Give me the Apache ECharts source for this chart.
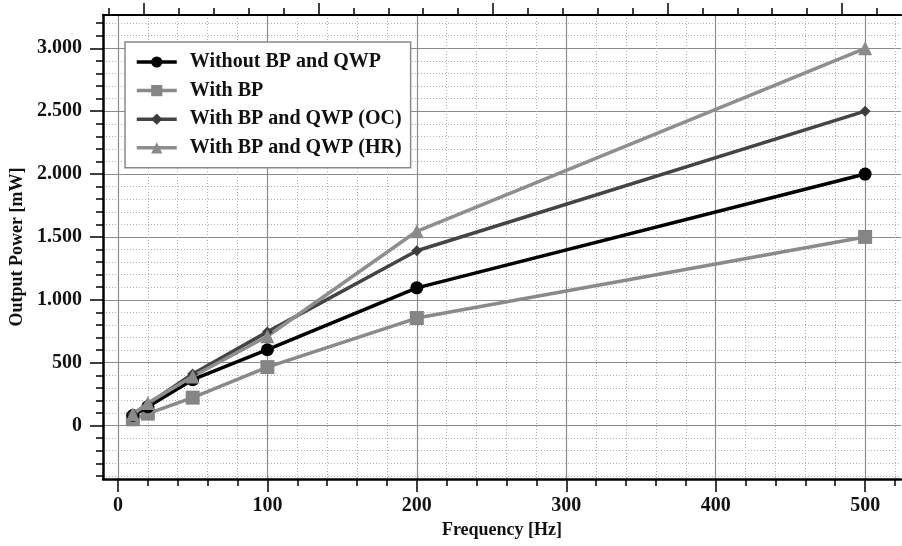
<!DOCTYPE html>
<html>
<head>
<meta charset="utf-8">
<script src="https://cdn.jsdelivr.net/npm/echarts@6/dist/echarts.min.js"></script>
<style>
  html, body { margin: 0; padding: 0; background: #fff; }
  #chart { width: 902px; height: 546px; }
</style>
</head>
<body>
<div id="chart"></div>
<script>
// ---- data ----
const frequency = [10, 20, 50, 100, 200, 500];
const withoutBPQWP = [80, 150, 365, 603, 1095, 2000];
const withBP = [50, 95, 222, 465, 855, 1500];
const withBPQWP_OC = [90, 170, 410, 745, 1390, 2500];
const withBPQWP_HR = [90, 180, 390, 710, 1545, 3000];
const seriesNames = ['Without BP and QWP', 'With BP', 'With BP and QWP (OC)', 'With BP and QWP (HR)'];

// ---- tick labels ----
const xMajorTicks = [0, 100, 200, 300, 400, 500];
const yMajorTicks = [0, 500, 1000, 1500, 2000, 2500, 3000];
const topMajorTicks = [0, 5, 10, 15, 20];

const xMinorTicks = [];
for (let v = 20; v <= 520; v += 20) if (v % 100 !== 0) xMinorTicks.push(v);
const yMinorTicks = [];
for (let v = -400; v <= 3200; v += 100) if (v % 500 !== 0) yMinorTicks.push(v);
const topMinorTicks = [];
for (let v = -1; v <= 21; v += 1) if (v % 5 !== 0) topMinorTicks.push(v);

const FONT = '"Liberation Serif", "DejaVu Serif", serif';
const pair = (xs, ys) => xs.map((x, i) => [x, ys[i]]);
const fmtThousand = v => String(v).replace(/\B(?=(\d{3})+(?!\d))/g, '.');

const chart = echarts.init(document.getElementById('chart'), null, { renderer: 'canvas' });

const X_MIN = -10, X_MAX = 524, Y_MIN = -425, Y_MAX = 3265;

chart.setOption({
  animation: false,
  backgroundColor: '#ffffff',
  textStyle: { fontFamily: FONT },
  grid: { left: 103, right: 1, top: 15, bottom: 67, containLabel: false },
  legend: {
    orient: 'vertical',
    left: 125, top: 42,
    padding: [10, 9, 10, 10],
    itemWidth: 40, itemHeight: 14, itemGap: 8.6,
    backgroundColor: '#ffffff',
    borderColor: '#8a8a8a', borderWidth: 1.5,
    lineStyle: { width: 3.5 },
    textStyle: { fontFamily: FONT, fontWeight: 'bold', fontSize: 20, color: '#111', padding: [0, 0, 0, 8] },
    data: seriesNames
  },
  xAxis: [
    {
      type: 'value', position: 'bottom', min: X_MIN, max: X_MAX,
      name: 'Frequency [Hz]', nameLocation: 'middle', nameGap: 38,
      nameTextStyle: { fontFamily: FONT, fontWeight: 'bold', fontSize: 18, color: '#111' },
      axisLine: { onZero: false, lineStyle: { color: '#000', width: 2.5 } },
      axisTick: { customValues: xMajorTicks, length: 13, lineStyle: { color: '#000', width: 1.5 } },
      axisLabel: { customValues: xMajorTicks, margin: 17, fontFamily: FONT, fontWeight: 'bold', fontSize: 20, color: '#111' },
      splitLine: { show: true, lineStyle: { color: '#8c8c8c', width: 1.2 } }
    },
    {
      type: 'value', position: 'bottom', min: X_MIN, max: X_MAX,
      axisLine: { show: false, onZero: false },
      axisTick: { customValues: xMinorTicks, length: 7, lineStyle: { color: '#000', width: 1.5 } },
      axisLabel: { show: false },
      splitLine: { show: true, lineStyle: { color: '#b0b0b0', width: 1, type: [1, 2] } }
    },
    {
      type: 'value', position: 'top', min: -1.175, max: 21.69,
      axisLine: { onZero: false, lineStyle: { color: '#000', width: 2.2 } },
      axisTick: { customValues: topMajorTicks, length: 12, lineStyle: { color: '#000', width: 1.5 } },
      axisLabel: { show: false },
      splitLine: { show: false }
    },
    {
      type: 'value', position: 'top', min: -1.175, max: 21.69,
      axisLine: { show: false, onZero: false },
      axisTick: { customValues: topMinorTicks, length: 7, lineStyle: { color: '#000', width: 1.5 } },
      axisLabel: { show: false },
      splitLine: { show: false }
    }
  ],
  yAxis: [
    {
      type: 'value', position: 'left', min: Y_MIN, max: Y_MAX,
      name: 'Output Power [mW]', nameLocation: 'middle', nameGap: 70, nameRotate: 90,
      nameTextStyle: { fontFamily: FONT, fontWeight: 'bold', fontSize: 18, color: '#111' },
      axisLine: { onZero: false, lineStyle: { color: '#000', width: 2.5 } },
      axisTick: { customValues: yMajorTicks, length: 13, lineStyle: { color: '#000', width: 1.5 } },
      axisLabel: { customValues: yMajorTicks, margin: 21, fontFamily: FONT, fontWeight: 'bold', fontSize: 20, color: '#111', formatter: fmtThousand },
      splitLine: { show: true, lineStyle: { color: '#8c8c8c', width: 1.2 } }
    },
    {
      type: 'value', position: 'left', min: Y_MIN, max: Y_MAX,
      axisLine: { show: false, onZero: false },
      axisTick: { customValues: yMinorTicks, length: 7, lineStyle: { color: '#000', width: 1.5 } },
      axisLabel: { show: false },
      splitLine: { show: true, lineStyle: { color: '#b0b0b0', width: 1, type: [1, 2] } }
    }
  ],
  series: [
    {
      name: seriesNames[0], type: 'line', xAxisIndex: 0, yAxisIndex: 0,
      data: pair(frequency, withoutBPQWP),
      symbol: 'circle', symbolSize: 13,
      lineStyle: { color: '#000000', width: 3.5 },
      itemStyle: { color: '#000000' }, z: 4
    },
    {
      name: seriesNames[1], type: 'line', xAxisIndex: 0, yAxisIndex: 0,
      data: pair(frequency, withBP),
      symbol: 'rect', symbolSize: 14,
      lineStyle: { color: '#8a8a8a', width: 3.5 },
      itemStyle: { color: '#858585' }, z: 3
    },
    {
      name: seriesNames[2], type: 'line', xAxisIndex: 0, yAxisIndex: 0,
      data: pair(frequency, withBPQWP_OC),
      symbol: 'diamond', symbolSize: 11,
      lineStyle: { color: '#444444', width: 3.5 },
      itemStyle: { color: '#3c3c3c' }, z: 5
    },
    {
      name: seriesNames[3], type: 'line', xAxisIndex: 0, yAxisIndex: 0,
      data: pair(frequency, withBPQWP_HR),
      symbol: 'triangle', symbolSize: 14,
      lineStyle: { color: '#8e8e8e', width: 3.5 },
      itemStyle: { color: '#8a8a8a' }, z: 5
    }
  ]
});
</script>
</body>
</html>
